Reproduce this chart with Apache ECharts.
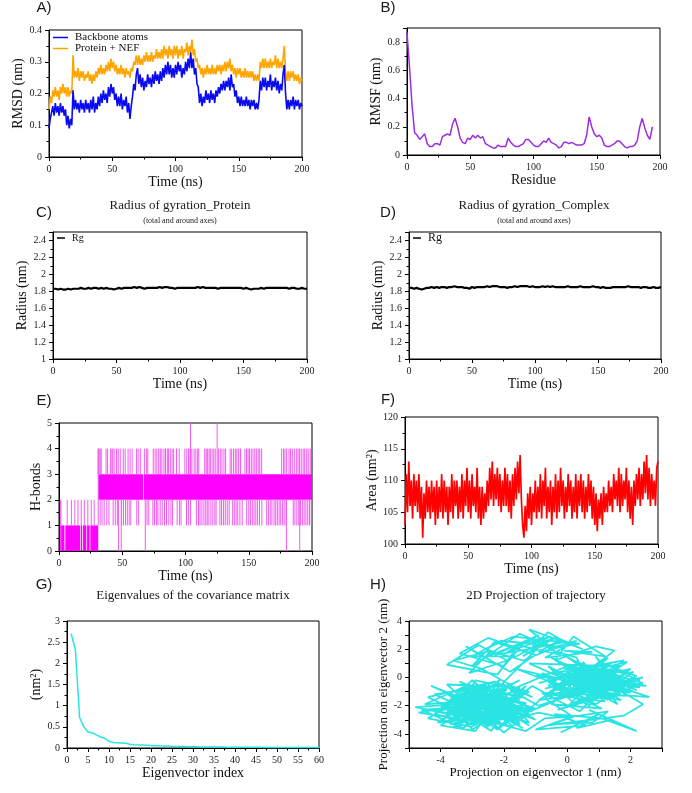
<!DOCTYPE html>
<html>
<head>
<meta charset="utf-8">
<script src="https://cdn.jsdelivr.net/npm/echarts@6/dist/echarts.min.js"></script>
<style>
  html, body { margin: 0; padding: 0; background: #fff; }
  #chart { width: 692px; height: 793px; }
</style>
</head>
<body>
<div id="chart"></div>
<script>
// ---- A) RMSD, one sample per ns (0..200)
const rmsdStep = 1
const rmsdBackbone = [
  0.09, 0.12, 0.14, 0.16, 0.13, 0.17, 0.14, 0.16, 0.13, 0.17,
  0.14, 0.16, 0.13, 0.15, 0.10, 0.13, 0.09, 0.12, 0.10, 0.21,
  0.15, 0.18, 0.15, 0.17, 0.14, 0.18, 0.15, 0.17, 0.14, 0.18,
  0.15, 0.17, 0.14, 0.18, 0.15, 0.19, 0.14, 0.17, 0.15, 0.19,
  0.16, 0.20, 0.17, 0.21, 0.18, 0.20, 0.17, 0.22, 0.19, 0.23,
  0.20, 0.22, 0.18, 0.20, 0.16, 0.19, 0.16, 0.20, 0.15, 0.18,
  0.16, 0.19, 0.14, 0.17, 0.12, 0.16, 0.19, 0.23, 0.21, 0.26,
  0.28, 0.23, 0.26, 0.22, 0.25, 0.21, 0.24, 0.22, 0.26, 0.23,
  0.25, 0.22, 0.26, 0.23, 0.27, 0.24, 0.26, 0.23, 0.27, 0.24,
  0.28, 0.25, 0.29, 0.26, 0.30, 0.26, 0.29, 0.25, 0.28, 0.25,
  0.29, 0.26, 0.30, 0.27, 0.29, 0.25, 0.28, 0.26, 0.30, 0.27,
  0.31, 0.28, 0.33, 0.28, 0.31, 0.26, 0.28, 0.23, 0.22, 0.17,
  0.20, 0.16, 0.19, 0.17, 0.21, 0.18, 0.20, 0.17, 0.21, 0.18,
  0.20, 0.17, 0.21, 0.19, 0.22, 0.20, 0.23, 0.21, 0.24, 0.21,
  0.24, 0.22, 0.25, 0.21, 0.26, 0.22, 0.23, 0.19, 0.21, 0.17,
  0.19, 0.16, 0.19, 0.16, 0.18, 0.16, 0.19, 0.16, 0.18, 0.15,
  0.18, 0.16, 0.18, 0.15, 0.17, 0.15, 0.18, 0.24, 0.21, 0.25,
  0.22, 0.25, 0.21, 0.24, 0.22, 0.26, 0.21, 0.24, 0.22, 0.25,
  0.21, 0.24, 0.20, 0.23, 0.21, 0.26, 0.29, 0.20, 0.15, 0.18,
  0.15, 0.18, 0.16, 0.19, 0.15, 0.18, 0.16, 0.18, 0.15, 0.17,
  0.16
]
const rmsdComplex = [
  0.15, 0.19, 0.17, 0.21, 0.19, 0.22, 0.19, 0.21, 0.18, 0.22,
  0.20, 0.23, 0.20, 0.22, 0.19, 0.22, 0.19, 0.21, 0.20, 0.32,
  0.25, 0.27, 0.25, 0.28, 0.24, 0.27, 0.25, 0.27, 0.24, 0.26,
  0.25, 0.27, 0.24, 0.26, 0.23, 0.26, 0.24, 0.27, 0.25, 0.28,
  0.26, 0.29, 0.26, 0.28, 0.26, 0.29, 0.27, 0.30, 0.27, 0.31,
  0.28, 0.30, 0.27, 0.29, 0.26, 0.28, 0.26, 0.29, 0.26, 0.28,
  0.25, 0.28, 0.26, 0.27, 0.25, 0.28, 0.27, 0.30, 0.29, 0.32,
  0.29, 0.32, 0.29, 0.31, 0.29, 0.32, 0.30, 0.33, 0.30, 0.32,
  0.30, 0.33, 0.30, 0.32, 0.31, 0.34, 0.31, 0.33, 0.31, 0.34,
  0.31, 0.35, 0.32, 0.34, 0.31, 0.35, 0.32, 0.34, 0.31, 0.35,
  0.32, 0.35, 0.31, 0.34, 0.32, 0.35, 0.31, 0.34, 0.33, 0.36,
  0.32, 0.35, 0.33, 0.37, 0.32, 0.34, 0.30, 0.31, 0.28, 0.29,
  0.26, 0.28, 0.25, 0.28, 0.26, 0.29, 0.26, 0.28, 0.26, 0.29,
  0.26, 0.28, 0.26, 0.29, 0.27, 0.29, 0.26, 0.29, 0.27, 0.30,
  0.27, 0.30, 0.28, 0.31, 0.27, 0.29, 0.26, 0.28, 0.25, 0.28,
  0.26, 0.28, 0.25, 0.27, 0.25, 0.28, 0.25, 0.27, 0.25, 0.27,
  0.25, 0.27, 0.24, 0.26, 0.24, 0.26, 0.24, 0.30, 0.28, 0.31,
  0.28, 0.31, 0.28, 0.30, 0.28, 0.31, 0.28, 0.30, 0.29, 0.32,
  0.28, 0.31, 0.28, 0.30, 0.28, 0.31, 0.35, 0.27, 0.24, 0.27,
  0.24, 0.27, 0.25, 0.27, 0.24, 0.26, 0.24, 0.26, 0.23, 0.25,
  0.24
]

// ---- B) RMSF, every 2nd residue from 0
const rmsfStep = 2
const rmsf = [
  0.87, 0.62, 0.35, 0.16, 0.14, 0.11, 0.13, 0.15, 0.08, 0.06,
  0.06, 0.08, 0.08, 0.07, 0.13, 0.14, 0.15, 0.14, 0.22, 0.26,
  0.20, 0.12, 0.09, 0.08, 0.12, 0.11, 0.14, 0.12, 0.14, 0.12,
  0.13, 0.08, 0.07, 0.06, 0.05, 0.05, 0.07, 0.06, 0.06, 0.06,
  0.12, 0.09, 0.07, 0.06, 0.06, 0.07, 0.08, 0.11, 0.11, 0.09,
  0.07, 0.06, 0.06, 0.08, 0.10, 0.09, 0.12, 0.09, 0.08, 0.07,
  0.05, 0.06, 0.09, 0.09, 0.08, 0.09, 0.08, 0.07, 0.07, 0.07,
  0.08, 0.14, 0.27, 0.20, 0.15, 0.13, 0.14, 0.12, 0.07, 0.06,
  0.06, 0.07, 0.08, 0.10, 0.10, 0.08, 0.06, 0.05, 0.06, 0.06,
  0.07, 0.10, 0.20, 0.26, 0.19, 0.14, 0.11, 0.20
]

// ---- C) / D) radius of gyration, every 2 ns
const rgStep = 2
const rgProtein = [
  1.83, 1.83, 1.82, 1.83, 1.82, 1.82, 1.83, 1.82, 1.83, 1.83,
  1.83, 1.84, 1.83, 1.83, 1.84, 1.83, 1.84, 1.84, 1.83, 1.84,
  1.83, 1.84, 1.83, 1.83, 1.82, 1.83, 1.84, 1.83, 1.84, 1.84,
  1.84, 1.84, 1.85, 1.84, 1.85, 1.84, 1.83, 1.84, 1.84, 1.84,
  1.84, 1.84, 1.85, 1.84, 1.85, 1.85, 1.84, 1.84, 1.83, 1.84,
  1.84, 1.84, 1.84, 1.84, 1.84, 1.84, 1.84, 1.85, 1.84, 1.85,
  1.84, 1.84, 1.84, 1.84, 1.84, 1.83, 1.84, 1.84, 1.84, 1.84,
  1.84, 1.84, 1.84, 1.84, 1.84, 1.83, 1.84, 1.83, 1.82, 1.83,
  1.83, 1.83, 1.84, 1.83, 1.84, 1.84, 1.84, 1.84, 1.84, 1.84,
  1.84, 1.84, 1.84, 1.83, 1.84, 1.84, 1.83, 1.83, 1.84, 1.83,
  1.83
]
const rgComplex = [
  1.84, 1.84, 1.83, 1.84, 1.83, 1.82, 1.83, 1.84, 1.84, 1.85,
  1.84, 1.85, 1.84, 1.85, 1.85, 1.84, 1.85, 1.85, 1.86, 1.85,
  1.85, 1.85, 1.84, 1.84, 1.83, 1.85, 1.84, 1.85, 1.85, 1.85,
  1.85, 1.86, 1.85, 1.86, 1.86, 1.86, 1.85, 1.85, 1.85, 1.84,
  1.85, 1.85, 1.86, 1.85, 1.86, 1.86, 1.86, 1.86, 1.85, 1.86,
  1.85, 1.85, 1.85, 1.86, 1.85, 1.86, 1.85, 1.86, 1.85, 1.85,
  1.85, 1.85, 1.85, 1.86, 1.85, 1.85, 1.85, 1.85, 1.86, 1.85,
  1.85, 1.85, 1.85, 1.86, 1.85, 1.85, 1.84, 1.85, 1.84, 1.84,
  1.84, 1.85, 1.85, 1.85, 1.85, 1.85, 1.85, 1.86, 1.85, 1.85,
  1.85, 1.85, 1.84, 1.85, 1.85, 1.84, 1.84, 1.85, 1.84, 1.84,
  1.85
]

// ---- E) H-bonds: dense blocks [tStart, tEnd, low, high] and single jumps (times, ns)
const hbBlocks = [
  [0.5, 4.3, 0, 1], [5.0, 16.6, 0, 1], [17.2, 18.4, 0, 1], [19.0, 21.6, 0, 1],
  [22.2, 24.2, 0, 1], [24.8, 31, 0, 1], [31, 66.6, 2, 3], [67.2, 200, 2, 3]
]
const hbUpTo4 = [
  31, 31.8, 32.6, 33.4, 37.2, 38.4, 40.6, 41.8, 42.5, 43.6, 45.5, 46.8, 48.4, 50.8, 52.3,
  54.6, 56.2, 57.8, 61.2, 62.5, 64.3, 67.5, 69.3, 70.2, 74.5, 76, 77.4, 78.8, 80.1, 81.3,
  83, 84.2, 85.6, 86.5, 88, 89.4, 90.6, 92.9, 95, 99.5, 101, 102.4, 103.6, 105, 106.8,
  108.2, 109.6, 110.5, 115.2, 116.4, 117.5, 118.7, 119.6, 121, 122.3, 123.5, 126, 127.5,
  128.8, 130.4, 131.7, 135.3, 136.5, 138, 139.4, 140.6, 142, 143.5, 147, 148.2, 149.5,
  150.6, 152, 153.4, 154.8, 156, 157.5, 158.7, 160.2, 176, 177.5, 178.6, 180, 181.8, 183,
  184.4, 186, 187.6, 189, 190.2, 191.5, 193, 194.2, 195.8, 197, 198.6
]
const hbDownTo1 = [
  32.5, 34, 35.7, 37.8, 39.5, 42.8, 44.5, 46.1, 49.5, 51, 52.6, 54, 55.5, 56.8, 61.5, 63,
  69.6, 71, 74.2, 75.5, 77, 78.2, 80, 81.6, 83.4, 85, 86.8, 88.5, 89.8, 93.4, 95.2, 96.5,
  100.8, 102.3, 104, 108.8, 110.3, 111.5, 113, 114.6, 116, 117.2, 118.5, 120.1, 121.6,
  123.2, 124.2, 127.2, 128.5, 130, 131.4, 133, 134.5, 137.3, 138.6, 140, 141.3, 143, 144.8,
  148.4, 150, 151.3, 152.8, 154.2, 155.6, 157, 158.5, 160.4, 164.2, 165.5, 167, 168.3, 170,
  171.3, 172.6, 174, 175.3, 176.8, 178, 179.5, 185.2, 186.5, 188, 189.5, 191, 192.4, 193.8,
  195.2, 196.6, 198, 199.4
]
const hbDownTo0 = [47, 49.2, 68.2, 179.8, 190.3]
const hbUpTo5 = [104, 125]
const hbEarlyTo2 = [1, 6.5, 9.8, 12.5, 15, 17.6, 20, 22.8, 25.5, 27.8]
const hbOtherJumps = [[1.5, 0, 2], [31, 1, 4]]

// ---- F) SASA, one sample per ns
const sasaStep = 1
const sasa = [
  103, 111, 105, 113, 106, 110, 104, 111, 106, 110,
  105, 111, 104, 109, 101, 108, 104, 110, 105, 109,
  104, 110, 105, 109, 103, 110, 104, 109, 105, 111,
  104, 110, 105, 109, 103, 109, 105, 111, 104, 110,
  106, 110, 104, 109, 105, 111, 104, 110, 106, 112,
  105, 110, 104, 111, 106, 109, 105, 112, 104, 109,
  103, 109, 104, 108, 105, 110, 106, 112, 107, 113,
  106, 111, 107, 112, 106, 111, 105, 110, 106, 112,
  106, 111, 105, 110, 104, 111, 106, 112, 107, 113,
  108, 114, 107, 103, 101, 106, 102, 108, 104, 109,
  103, 108, 105, 110, 104, 109, 105, 111, 104, 110,
  106, 112, 104, 109, 105, 110, 103, 109, 105, 111,
  104, 110, 105, 112, 106, 110, 104, 109, 105, 111,
  106, 110, 104, 109, 105, 111, 104, 110, 106, 111,
  105, 110, 104, 109, 105, 111, 106, 110, 104, 109,
  103, 108, 102, 107, 104, 108, 103, 109, 105, 108,
  105, 110, 106, 109, 105, 111, 107, 110, 106, 112,
  105, 111, 106, 110, 107, 112, 105, 110, 104, 109,
  103, 110, 106, 111, 107, 112, 106, 111, 107, 113,
  108, 114, 107, 112, 106, 111, 107, 110, 106, 112,
  113
]

// ---- G) eigenvalues, index 1..60
const eigenValues = [
  2.70, 2.32, 0.72, 0.50, 0.38, 0.36, 0.31, 0.26, 0.23, 0.16,
  0.13, 0.125, 0.12, 0.11, 0.09, 0.075, 0.07, 0.068, 0.065, 0.06,
  0.055, 0.052, 0.05, 0.045, 0.04, 0.038, 0.036, 0.034, 0.032, 0.03,
  0.028, 0.026, 0.025, 0.024, 0.023, 0.022, 0.021, 0.02, 0.019, 0.018,
  0.017, 0.017, 0.016, 0.016, 0.015, 0.015, 0.014, 0.014, 0.013, 0.013,
  0.012, 0.012, 0.012, 0.011, 0.011, 0.011, 0.010, 0.010, 0.010, 0.010
]

// ---- H) projection on eigenvectors 1 and 2, in time order
const projPath = [
  [-2.0,-1.2],[-3.1,-2.4],[-1.6,-3.1],[-2.8,-0.6],[-3.9,-1.9],[-2.2,-3.6],[-1.3,-1.8],[-3.4,-1.1],[-2.5,-3.3],[-4.2,-2.6],
  [-3.0,-0.2],[-1.8,-2.5],[-3.6,-3.1],[-2.1,-0.9],[-1.2,-3.2],[-2.9,-2.0],[-4.6,-2.3],[-3.3,-3.6],[-1.9,-1.5],[-2.6,-2.9],
  [-3.8,-0.5],[-1.5,-0.7],[-2.4,-3.8],[-3.5,-2.2],[-1.1,-2.4],[-2.7,-1.3],[-4.1,-3.2],[-2.0,-2.7],[-3.2,-0.9],[-1.7,-3.5],
  [-2.9,-3.0],[-4.4,-1.4],[-2.3,-0.3],[-1.4,-1.2],[-3.0,-3.7],[-3.7,-1.6],[-2.1,-2.1],[-1.0,-3.0],[-2.6,-0.8],[-3.9,-2.8],
  [-2.8,-3.4],[-1.6,-2.0],[-3.4,-0.3],[-2.2,-1.7],[-4.8,-2.1],[-3.1,-2.9],[-1.8,-0.4],[-2.5,-2.4],[-3.6,-3.5],[-1.3,-2.7],
  [-2.0,-3.9],[-3.3,-1.5],[-4.3,-0.6],[-2.7,-2.2],[-1.5,-1.6],[-3.0,-1.0],[-2.3,-3.2],[-3.8,-2.4],[-1.9,-0.8],[-2.9,-3.8],
  [-4.0,-3.4],[-2.4,-1.1],[-1.2,-2.1],[-3.5,-2.7],[-2.1,-0.1],[-3.2,-3.3],[-1.7,-2.8],[-2.6,-1.6],[-4.5,-1.9],[-3.1,-0.5],
  [-2.2,-2.5],[-1.4,-3.6],[-2.8,-1.9],[-3.7,-3.0],[-1.9,-1.3],[-2.5,-3.5],[-3.4,-2.0],[-4.2,-1.2],[-2.0,-0.5],[-1.1,-1.4],
  [-2.7,0.6],[-3.6,1.2],[-2.4,1.9],[-3.1,0.3],[-1.9,1.2],[-2.8,2.3],[-3.8,0.9],[-2.2,0.2],[-1.6,2.1],[-2.5,2.8],
  [-3.4,1.7],[-2.0,0.8],[-1.3,2.6],[-2.6,1.4],[-3.2,2.2],[-1.8,0.4],[-1.0,1.6],[-2.3,2.5],[-3.0,0.8],[-1.5,3.1],
  [-0.8,2.4],[-1.4,1.5],[-0.3,2.9],[-1.1,2.2],[-0.6,3.2],[0.1,2.3],[-0.9,1.8],[-0.2,2.7],[0.5,2.0],[-1.2,3.4],
  [-0.5,2.1],[0.3,2.6],[-0.7,1.4],[0.8,1.8],[-0.1,1.9],[1.2,1.5],[0.2,2.9],[-0.4,1.2],[0.9,2.2],[1.5,1.9],
  [0.6,0.4],[1.8,-0.6],[-0.4,-0.9],[1.1,1.0],[2.2,0.1],[0.2,-1.8],[-0.8,0.3],[1.5,-1.5],[0.4,0.9],[2.4,-0.4],
  [-0.2,-1.3],[1.0,-0.2],[1.9,1.1],[-0.6,-0.3],[0.7,-2.0],[1.6,0.5],[-0.1,0.6],[2.1,-1.0],[0.3,-0.6],[1.3,1.4],
  [-0.9,-1.6],[0.9,-1.1],[2.6,-1.4],[0.5,0.2],[-0.3,1.1],[1.7,-0.2],[0.0,-2.1],[1.2,0.7],[-0.7,-0.8],[2.0,0.6],
  [0.8,-1.6],[-0.4,0.5],[1.4,-0.9],[0.1,1.3],[2.3,-0.7],[0.6,-0.4],[-1.0,0.1],[1.8,1.2],[0.3,-1.4],[1.1,-2.2],
  [-0.5,-1.9],[0.7,0.8],[2.2,-0.3],[-0.2,-0.5],[1.5,0.2],[0.4,-2.4],[-0.8,-1.1],[1.9,-1.3],[0.9,0.3],[-0.1,1.6],
  [1.3,-0.6],[2.4,0.0],[0.2,-0.9],[-0.6,0.8],[1.6,-1.9],[0.5,1.1],[1.0,-1.3],[-0.3,-2.3],[2.0,-0.8],[0.8,0.6],
  [-0.9,-0.4],[1.4,1.0],[0.0,-1.0],[1.7,-1.6],[0.6,-0.1],[-0.5,1.4],[1.2,-0.4],[2.5,-0.6],[0.3,0.4],[-0.7,-1.5],
  [0.2,-2.8],[-0.6,-3.4],[0.5,-3.1],[-0.2,-3.9],[1.0,-2.6],[0.3,-3.6],[1.4,-3.0],[0.7,-2.3],[2.2,-3.8],[1.1,-2.9],
  [-0.4,-2.6],[0.6,-3.4],[-1.0,-3.7],[0.0,-2.9],[-0.9,-2.5],
  [-1.8,-3.0],[-2.9,-1.6],[-1.5,-0.2],[-3.6,-2.6],[-2.3,-1.8],[-1.2,-3.4],[-3.2,-0.7],[-2.7,-3.1],[-4.0,-2.0],[-1.6,-1.0],
  [-2.4,-2.9],[-3.5,-1.3],[-2.0,-2.3],[-1.3,-0.6],[-3.0,-3.5],[-4.4,-2.9],[-2.5,-0.4],[-1.9,-3.4],[-3.3,-2.4],[-2.1,-1.4],
  [-1.0,-2.2],[-2.8,-2.6],[-3.9,-1.0],[-2.2,-3.7],[-1.5,-2.4],[-3.1,-1.9],[-4.7,-2.5],[-2.6,-3.2],[-1.7,-1.7],[-3.4,-0.9],
  [-2.0,-2.0],[-1.2,-1.0],[-2.9,-0.2],[-3.7,-3.3],[-2.3,-2.6],
  [-1.1,-0.6],[-0.3,-1.6],[-1.4,-2.6],[-0.1,-0.2],[-1.6,0.6],[0.4,-1.1],[-0.9,-2.0],[-1.8,-0.9],[0.1,0.9],[-1.2,1.0],
  [0.6,-0.8],[-0.6,-1.2],[1.2,-1.7],[0.0,0.4],[1.6,-0.9],[0.9,1.5],[1.4,0.2],[2.1,-0.5],[0.7,-0.9],[1.0,0.1],
  [0.4,-0.3],[1.3,-1.1],[0.1,0.2],[1.8,-0.2],[0.6,-1.5],[-0.2,-0.7],[1.1,0.5],[2.0,-1.1],[0.8,-0.6],[-0.4,0.0],
  [1.5,-1.4],[0.3,0.7],[1.9,0.3],[0.5,-1.1],[-0.3,-1.4],[1.2,-0.1],[2.2,-0.9],[0.7,0.3],[0.0,-0.4],[1.6,-1.0],
  [0.9,-1.9],[-0.5,-0.2],[1.4,0.6],[2.3,-0.2],[0.2,-1.2],[1.0,-0.7],[-0.1,0.9],[1.7,0.8],[0.6,-0.2],[1.3,-1.6],
  [0.2,-0.1],[1.8,-0.9],[0.4,1.0],[-0.6,-0.6],[1.1,-1.2],[2.1,0.4],[0.7,-0.5],[-0.2,0.3],[1.5,-0.4],[0.9,-1.4],
  [0.3,1.4],[-0.6,2.0],[0.4,2.4],[-1.0,2.7],[-0.2,1.6],[-1.6,2.3],[-0.5,2.9],[-1.9,1.8],[-0.9,3.0],[-2.3,1.6],
  [-1.2,2.0],[-0.1,2.5],[-1.7,2.9],[-2.6,2.0],[-1.4,1.2],[-0.3,2.2],[-2.1,2.6],[-3.0,1.5],[-1.6,1.5],[-0.7,2.6],
  [-2.3,-1.0],[-3.2,-2.1],[-2.0,-2.9],[-2.9,-1.2],[-1.6,-2.2],[-2.6,-3.0],[-3.4,-1.7],[-2.2,-1.9],[-1.5,-2.9],[-2.8,-2.4],
  [-3.6,-1.9],[-2.4,-0.6],[-1.8,-1.8],[-3.0,-2.7],[-2.1,-3.2],[-3.3,-1.2],[-2.5,-2.0],[-1.4,-1.4],[-2.7,-0.9],[-3.7,-2.3],
  [-2.3,-2.8],[-1.7,-2.4],[-3.1,-1.5],[-2.0,-1.1],[-2.9,-3.1],[-3.5,-2.0],[-2.2,-2.3],[-1.3,-1.9],[-2.6,-1.4],[-3.3,-2.9],
  [-1.9,-2.6],[-2.8,-1.7],[-3.9,-2.2],[-2.4,-3.4],[-1.6,-1.3],[-2.9,-0.7],[-3.4,-2.5],[-2.1,-1.6],[-1.2,-2.6],[-2.5,-2.7],
  [-3.6,-1.4],[-2.7,-3.3],[-1.8,-2.0],[-3.0,-1.9],[-2.2,-0.8],[-1.5,-3.3],[-3.2,-2.2],[-2.4,-1.5],[-4.1,-2.4],[-2.8,-2.9],
  [-1.3,-3.8],[-0.7,-2.9],[0.4,-2.7],[1.3,-2.4],[0.8,-3.2],[-0.3,-3.3],[1.8,-2.7],[2.4,-1.9],[1.5,-0.7],[0.6,-1.3],
  [1.0,-0.4],[1.7,-1.2],[0.3,-0.8],[1.2,0.3],[2.0,-0.5],[0.5,-0.9],[1.4,-0.2],[0.8,-1.0]
]

const SERIF = 'Liberation Serif'
const SANS = 'Liberation Sans'
const MAGENTA = '#ff00ff'
const CYAN = '#2ae4e4'

const pairs = (vals, start, step) => vals.map((v, i) => [start + i * step, v])

// one grid per panel, in page pixels
const grids = [
  { left: 49, top: 30, width: 253, height: 127 },   // A
  { left: 407, top: 28, width: 253, height: 127 },  // B
  { left: 53, top: 232, width: 254, height: 127 },  // C
  { left: 409, top: 232, width: 252, height: 127 }, // D
  { left: 59, top: 423, width: 253, height: 128 },  // E
  { left: 405, top: 417, width: 253, height: 127 }, // F
  { left: 67, top: 621, width: 252, height: 127 },  // G
  { left: 409, top: 621, width: 253, height: 127 }  // H
].map(g => Object.assign(g, { show: true, borderColor: '#000', borderWidth: 1, backgroundColor: 'transparent' }))

function axis(gi, name, min, max, interval, gap, label, more) {
  return Object.assign({
    gridIndex: gi, type: 'value', name, min, max, interval,
    nameLocation: 'middle', nameGap: gap,
    nameTextStyle: { fontFamily: SERIF, fontSize: 14, color: '#111' },
    axisLine: { show: true, onZero: false, lineStyle: { color: '#000', width: 1 } },
    axisTick: { show: true, length: 4, lineStyle: { color: '#000' } },
    minorTick: { show: true, splitNumber: 2, length: 2.5, lineStyle: { color: '#000' } },
    axisLabel: Object.assign({ fontFamily: SERIF, fontSize: 10, color: '#222', margin: 7 }, label || {}),
    splitLine: { show: false }
  }, more || {})
}

const evenOnly = v => (Math.round(v) % 2 === 0 ? String(Math.round(v)) : '')

const xAxes = [
  axis(0, 'Time (ns)', 0, 200, 50, 16),
  axis(1, 'Residue', 0, 200, 50, 16),
  axis(2, 'Time (ns)', 0, 200, 50, 16),
  axis(3, 'Time (ns)', 0, 200, 50, 16),
  axis(4, 'Time (ns)', 0, 200, 50, 15),
  axis(5, 'Time (ns)', 0, 200, 50, 16),
  axis(6, 'Eigenvector index', 0, 60, 5, 16),
  axis(7, 'Projection on eigenvector 1 (nm)', -5, 3, 1, 16, { formatter: evenOnly },
    { minorTick: { show: false }, nameTextStyle: { fontFamily: SERIF, fontSize: 13, color: '#111' } })
]
const yAxes = [
  axis(0, 'RMSD (nm)', 0, 0.4, 0.1, 20),
  axis(1, 'RMSF (nm)', 0, 0.9, 0.2, 24, { showMaxLabel: false }),
  axis(2, 'Radius (nm)', 1, 2.5, 0.2, 21, { showMaxLabel: false }),
  axis(3, 'Radius (nm)', 1, 2.5, 0.2, 23, { showMaxLabel: false }),
  axis(4, 'H-bonds', 0, 5, 1, 14),
  axis(5, 'Area (nm²)', 100, 120, 5, 23),
  axis(6, '(nm²)', 0, 3, 0.5, 22),
  axis(7, 'Projection on eigenvector 2 (nm)', -5, 4, 1, 17, { formatter: evenOnly },
    { minorTick: { show: false }, nameTextStyle: { fontFamily: SERIF, fontSize: 13, color: '#111' } })
]

function lineSeries(name, gi, data, color, width) {
  return {
    type: 'line', name, xAxisIndex: gi, yAxisIndex: gi, data,
    showSymbol: false, symbol: 'none', silent: true, clip: true,
    lineStyle: { color, width }, itemStyle: { color }
  }
}

function blockItem(params, api) {
  const a = api.coord([api.value(0), api.value(3)])
  const b = api.coord([api.value(1), api.value(2)])
  return { type: 'rect', shape: { x: a[0], y: a[1], width: b[0] - a[0], height: b[1] - a[1] }, style: { fill: MAGENTA } }
}
function jumpItem(params, api) {
  const p0 = api.coord([api.value(0), api.value(1)])
  const p1 = api.coord([api.value(0), api.value(2)])
  return { type: 'line', shape: { x1: p0[0], y1: p0[1], x2: p1[0], y2: p1[1] }, style: { stroke: '#f05cf0', lineWidth: 1 } }
}

const hbJumps = [].concat(
  hbUpTo4.map(t => [t, 3, 4]),
  hbDownTo1.map(t => [t, 2, 1]),
  hbDownTo0.map(t => [t, 2, 0]),
  hbUpTo5.map(t => [t, 3, 5]),
  hbEarlyTo2.map(t => [t, 1, 2]),
  hbOtherJumps
)

const series = [
  lineSeries('Protein + NEF', 0, pairs(rmsdComplex, 0, rmsdStep), '#ffa500', 1.6),
  lineSeries('Backbone atoms', 0, pairs(rmsdBackbone, 0, rmsdStep), '#0a0af0', 1.6),
  lineSeries('RMSF', 1, pairs(rmsf, 0, rmsfStep), '#9a2fe0', 1.5),
  lineSeries('Rg', 2, pairs(rgProtein, 0, rgStep), '#000', 2.2),
  lineSeries('Rg ', 3, pairs(rgComplex, 0, rgStep), '#000', 2.2),
  { type: 'custom', xAxisIndex: 4, yAxisIndex: 4, data: hbBlocks, renderItem: blockItem, encode: { x: [0, 1], y: [2, 3] }, silent: true, clip: true },
  { type: 'custom', xAxisIndex: 4, yAxisIndex: 4, data: hbJumps, renderItem: jumpItem, encode: { x: 0, y: [1, 2] }, silent: true, clip: true },
  lineSeries('SASA', 5, pairs(sasa, 0, sasaStep), '#ff0000', 1.7),
  lineSeries('Eigenvalues', 6, pairs(eigenValues, 1, 1), CYAN, 1.5),
  lineSeries('Projection', 7, projPath, CYAN, 1.8)
]

function legend(names, left, top, w, size) {
  return {
    data: names, left, top, orient: 'vertical', padding: 0, itemGap: 0,
    icon: 'rect', itemWidth: w, itemHeight: 1.5, selectedMode: false,
    textStyle: { fontFamily: SERIF, fontSize: size, lineHeight: size, color: '#111', padding: [0, 0, 0, 2] }
  }
}

function label(text, x, y, font) {
  return { type: 'text', x, y, silent: true,
    style: { text, font, fill: '#1a1a1a', textAlign: 'center', align: 'center', textVerticalAlign: 'middle', verticalAlign: 'middle' } }
}
const letterFont = '15px "' + SANS + '"'
const titleFont = '13px "' + SERIF + '"'
const subFont = '8px "' + SERIF + '"'

const graphic = [
  label('A)', 44, 8, letterFont),
  label('B)', 388, 8, letterFont),
  label('C)', 44, 213, letterFont),
  label('D)', 388, 213, letterFont),
  label('E)', 44, 401, letterFont),
  label('F)', 388, 400, letterFont),
  label('G)', 44, 585, letterFont),
  label('H)', 378, 585, letterFont),
  label('Radius of gyration_Protein', 180, 206, titleFont),
  label('(total and around axes)', 180, 221, subFont),
  label('Radius of gyration_Complex', 534, 206, titleFont),
  label('(total and around axes)', 534, 221, subFont),
  label('Eigenvalues of the covariance matrix', 193, 596, titleFont),
  label('2D Projection of trajectory', 536, 596, titleFont)
]

const chart = echarts.init(document.getElementById('chart'), null, { renderer: 'canvas' })
chart.setOption({
  animation: false,
  backgroundColor: '#fff',
  textStyle: { fontFamily: SERIF },
  grid: grids,
  xAxis: xAxes,
  yAxis: yAxes,
  legend: [
    legend(['Backbone atoms', 'Protein + NEF'], 53, 32, 15, 11),
    legend(['Rg'], 57, 233, 8, 10),
    legend(['Rg '], 413, 232, 8, 12)
  ],
  graphic,
  series
})
</script>
</body>
</html>
